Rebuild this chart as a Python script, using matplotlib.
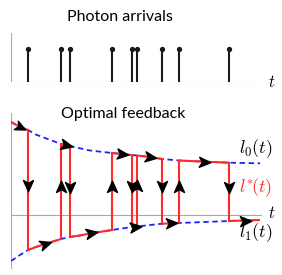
import numpy as np
import matplotlib
matplotlib.use("Agg")
import matplotlib.pyplot as plt
from matplotlib.path import Path

plt.rcParams["mathtext.fontset"] = "cm"
plt.rcParams["font.family"] = ["Lato", "DejaVu Sans"]

# photon arrival times (jumps of the feedback)
photon_t = [0.68, 2.0, 2.36, 4.04, 4.84, 5.04, 6.04, 6.72, 8.72]

# threshold curves
curve_t = [0, 0.36, 0.68, 1.0, 1.36, 1.68, 2.0, 2.36, 2.76, 3.16, 4.04,
           4.84, 5.04, 5.56, 6.04, 6.72, 7.76, 8.72, 9.96]
l0 = [9.3, 8.8, 8.5, 8.04, 7.7, 7.4, 7.1, 6.9, 6.67, 6.45, 6.2,
      6.0, 5.95, 5.8, 5.6, 5.45, 5.33, 5.23, 5.17]
l1 = [-4.6, -4.0, -3.5, -3.2, -2.9, -2.65, -2.4, -2.2, -2.05, -1.85, -1.5,
      -1.2, -1.15, -1.0, -0.87, -0.8, -0.7, -0.6, -0.5]

red = "#ff2b2b"
blue = "#2020ff"
grey = "#aaaaaa"
W, H = 282, 275
PX_X, PX_Y = 25.0, 10.0  # pixels per data unit in the lower panel


# stealth arrow head, rotated by angle (radians, 0 = pointing right)
def head(angle):
    v = np.array([(1, 0), (-0.8, 0.8), (-0.35, 0), (-0.8, -0.8), (1, 0)])
    c, s = np.cos(angle), np.sin(angle)
    v = v @ np.array([[c, s], [-s, c]])
    return Path(v, [Path.MOVETO, Path.LINETO, Path.LINETO, Path.LINETO, Path.CLOSEPOLY])


fig = plt.figure(figsize=(W / 100, H / 100), dpi=100)

# ---- top: photon arrivals
ax1 = fig.add_axes([11 / W, (H - 82) / H, 251 / W, 49 / H])
ax1.set_xlim(0, 10.04)
ax1.set_ylim(0, 1.49)
ax1.axis("off")
ax1.axhline(0, color=grey, lw=0.8)
ax1.axvline(0, color=grey, lw=0.8)
ax1.vlines(photon_t, 0, 1, color="#1a1a1a", lw=1.5)
ax1.plot(photon_t, [1] * len(photon_t), "o", color="#1a1a1a", ms=2.8)
ax1.text(10.44, 0, "$t$", fontsize=12, ha="center", va="center", clip_on=False)

# ---- bottom: optimal feedback
ax2 = fig.add_axes([11 / W, 6 / H, 251 / W, 156 / H])
ax2.set_xlim(0, 10.04)
ax2.set_ylim(-5.4, 10.2)
ax2.axis("off")
ax2.axhline(0, color=grey, lw=0.8)
ax2.axvline(0, color=grey, lw=0.8)

ax2.plot(curve_t, l0, color=blue, lw=1.3, ls=(0, (3, 2)), zorder=2)
ax2.plot(curve_t, l1, color=blue, lw=1.3, ls=(0, (3, 2)), zorder=2)

curves = [np.array(l0), np.array(l1)]
tt = np.array(curve_t)
bounds = [curve_t[0]] + photon_t + [curve_t[-1]]
state = 0
for k in range(len(bounds) - 1):
    a, b = bounds[k], bounds[k + 1]
    m = (tt >= a) & (tt <= b)
    ax2.plot(tt[m], curves[state][m], color=red, lw=1.5, zorder=3,
             solid_capstyle="butt")
    # arrow in the middle of the run, following the curve's slope
    tm = (a + b) / 2
    ym = np.interp(tm, tt, curves[state])
    dy = np.interp(tm + 0.1, tt, curves[state]) - np.interp(tm - 0.1, tt, curves[state])
    ang = np.arctan2(dy * PX_Y, 0.2 * PX_X)
    ax2.plot(tm, ym, marker=head(ang), color="k", ms=9, ls="none", zorder=5)
    if k < len(photon_t):
        y0 = np.interp(b, tt, l0)
        y1 = np.interp(b, tt, l1)
        ax2.plot([b, b], [y0, y1], color=red, lw=1.5, zorder=3)
        ang = -np.pi / 2 if state == 0 else np.pi / 2
        ax2.plot(b, (y0 + y1) / 2 + 0.5, marker=head(ang), color="k", ms=9,
                 ls="none", zorder=5)
        state = 1 - state

ax2.text(10.44, 0.2, "$t$", fontsize=12, ha="center", va="center", clip_on=False)
ax2.text(9.8, 6.6, "$l_0(t)$", fontsize=13, ha="center", va="center", clip_on=False)
ax2.text(9.8, 2.7, r"$l^{*}\!(t)$", fontsize=13, ha="center", va="center", color=red,
         clip_on=False)
ax2.text(9.8, -1.8, "$l_1(t)$", fontsize=13, ha="center", va="center", clip_on=False)

fig.text(120 / W, 1 - 17 / H, "Photon arrivals", fontsize=11.5, ha="center", va="center")
fig.text(123 / W, 1 - 114 / H, "Optimal feedback", fontsize=11.5, ha="center", va="center")

fig.savefig("out.png", dpi=100)
